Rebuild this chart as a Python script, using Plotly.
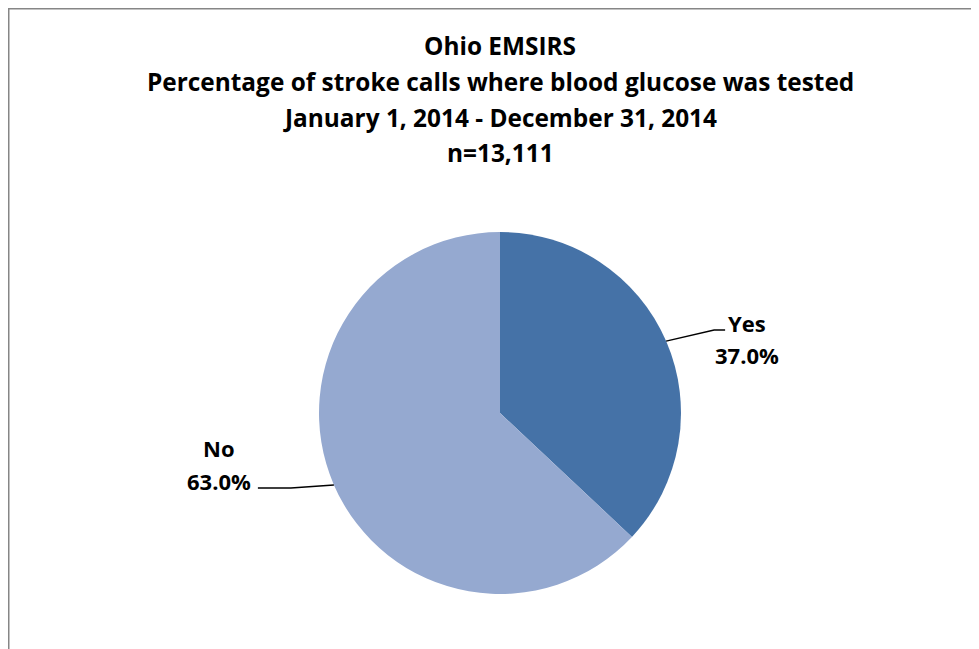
import math
import plotly.graph_objects as go

labels = ["Yes", "No"]
values = [37.0, 63.0]
colors = ["#4572A7", "#95A9D0"]
title_lines = [
    "Ohio EMSIRS",
    "Percentage of stroke calls where blood glucose was tested",
    "January 1, 2014 - December 31, 2014",
    "n=13,111",
]

# page offset (browser body margin)
OFF = 8
W, H = 979 - OFF, 649 - OFF
cx, cy, r = 500 - OFF, 413 - OFF, 181
FONT = "Open Sans, Lato, sans-serif"

fig = go.Figure(go.Pie(
    labels=labels, values=values, sort=False, direction="clockwise", rotation=0,
    marker=dict(colors=colors, line=dict(width=0)),
    textinfo="none", hoverinfo="label+percent", showlegend=False,
    domain=dict(x=[(cx - r) / W, (cx + r) / W], y=[(H - cy - r) / H, (H - cy + r) / H]),
))

def px(x):
    return x / W

def py(y):
    return 1 - y / H

annotations = []
shapes = []
# title lines
for i, t in enumerate(title_lines):
    annotations.append(dict(text="<b>%s</b>" % t, x=px(500 - OFF), y=py(45.5 - OFF + i * 35.8),
                            xref="paper", yref="paper",
                            showarrow=False, xanchor="center", yanchor="middle",
                            font=dict(family=FONT, size=24.4, color="black")))

# data labels with leader lines computed from slice angles
total = sum(values)
cum = 0
for lab, v in zip(labels, values):
    mid = (cum + v / 2) / total * 2 * math.pi
    cum += v
    ex, ey = cx + r * math.sin(mid), cy - r * math.cos(mid)
    right = math.sin(mid) > 0
    if right:
        bx, by = ex + 48, ey - 11
        hx = bx + 11
        tcx = hx + 22
        y1, y2 = by - 7, by + 25
    else:
        bx, by = ex - 43, ey + 3
        hx = bx - 33
        tcx = hx - 39
        y1, y2 = by - 40, by - 7
    shapes.append(dict(type="path", xref="paper", yref="paper",
                       path="M %f %f L %f %f L %f %f" % (px(ex), py(ey), px(bx), py(by), px(hx), py(by)),
                       line=dict(color="black", width=1.5)))
    for txt, yy in ((lab, y1), ("%.1f%%" % v, y2)):
        annotations.append(dict(text="<b>%s</b>" % txt, x=px(tcx), y=py(yy),
                                xref="paper", yref="paper", showarrow=False, xanchor="center", yanchor="middle",
                                font=dict(family=FONT, size=22, color="black")))

# chart border (left and top)
shapes.append(dict(type="path", xref="paper", yref="paper",
                   path="M %f %f L %f %f L %f %f" % (px(0.5), -0.05, px(0.5), py(0.5), 1.05, py(0.5)),
                   line=dict(color="#868686", width=2)))

fig.update_layout(
    width=W, height=H, margin=dict(l=0, r=0, t=0, b=0),
    paper_bgcolor="white", plot_bgcolor="white",
    annotations=annotations, shapes=shapes,
)
fig.write_html("out.html")
